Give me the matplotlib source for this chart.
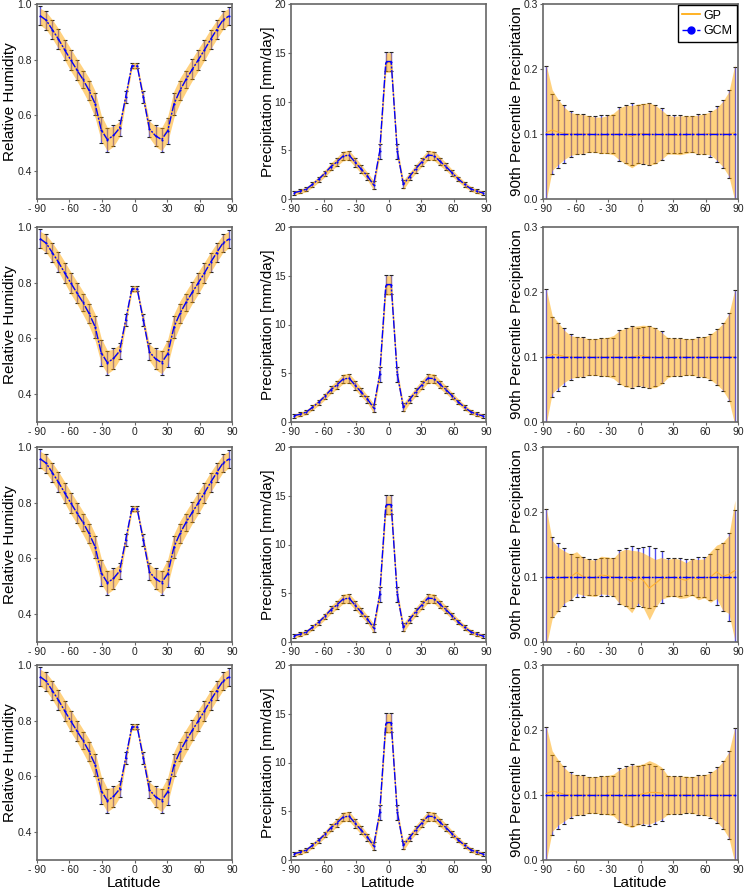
import matplotlib
matplotlib.use('Agg')
import matplotlib.pyplot as plt
from matplotlib.lines import Line2D

plt.rcParams['font.family'] = ['Liberation Sans', 'DejaVu Sans']

# Gaussian latitudes (32 points)
lat = [-87.16, -81.53, -75.89, -70.24, -64.59, -58.95, -53.30, -47.65,
       -42.00, -36.35, -30.70, -25.06, -19.41, -13.76, -8.11, -2.46,
       2.46, 8.11, 13.76, 19.41, 25.06, 30.70, 36.35, 42.00,
       47.65, 53.30, 58.95, 64.59, 70.24, 75.89, 81.53, 87.16]

# relative humidity
rh_gcm = [0.958, 0.942, 0.908, 0.874, 0.836, 0.800, 0.764, 0.730, 0.690, 0.642, 0.548, 0.513, 0.528, 0.555, 0.667, 0.778,
          0.778, 0.667, 0.552, 0.527, 0.513, 0.545, 0.640, 0.690, 0.730, 0.765, 0.800, 0.835, 0.873, 0.908, 0.942, 0.957]
rh_gcm_err = [0.034, 0.034, 0.035, 0.036, 0.036, 0.036, 0.036, 0.031, 0.034, 0.040, 0.046, 0.043, 0.036, 0.028, 0.021, 0.009,
              0.009, 0.021, 0.030, 0.037, 0.043, 0.046, 0.040, 0.035, 0.031, 0.036, 0.036, 0.035, 0.034, 0.034, 0.033, 0.034]
rh_gp = [0.955, 0.940, 0.910, 0.876, 0.838, 0.800, 0.765, 0.728, 0.690, 0.640, 0.555, 0.515, 0.525, 0.552, 0.665, 0.777,
         0.777, 0.665, 0.550, 0.525, 0.515, 0.552, 0.640, 0.690, 0.728, 0.765, 0.800, 0.836, 0.874, 0.908, 0.940, 0.955]
rh_gp_sd = [0.030, 0.032, 0.034, 0.036, 0.038, 0.040, 0.040, 0.042, 0.045, 0.048, 0.046, 0.042, 0.036, 0.028, 0.018, 0.012,
            0.012, 0.018, 0.030, 0.036, 0.042, 0.046, 0.048, 0.045, 0.042, 0.040, 0.040, 0.038, 0.036, 0.034, 0.032, 0.030]

# precipitation [mm/day]
pr_gcm = [0.65, 0.80, 1.02, 1.50, 2.02, 2.62, 3.30, 3.80, 4.40, 4.50, 3.75, 3.05, 2.35, 1.45, 4.90, 14.10,
          14.10, 4.90, 1.50, 2.30, 3.10, 3.80, 4.50, 4.45, 3.85, 3.30, 2.65, 2.05, 1.50, 1.05, 0.80, 0.62]
pr_gcm_err = [0.22, 0.20, 0.20, 0.22, 0.25, 0.30, 0.35, 0.40, 0.42, 0.45, 0.42, 0.40, 0.35, 0.42, 0.75, 1.00,
              1.00, 0.75, 0.42, 0.35, 0.40, 0.42, 0.45, 0.42, 0.40, 0.35, 0.30, 0.25, 0.22, 0.20, 0.20, 0.22]
pr_gp = [0.62, 0.78, 1.00, 1.48, 2.00, 2.60, 3.28, 3.82, 4.42, 4.48, 3.78, 3.05, 2.32, 1.40, 4.85, 14.00,
         14.00, 4.85, 1.45, 2.30, 3.08, 3.80, 4.48, 4.45, 3.85, 3.30, 2.65, 2.05, 1.50, 1.05, 0.78, 0.62]
pr_gp_sd = [0.22, 0.22, 0.25, 0.28, 0.30, 0.35, 0.40, 0.45, 0.50, 0.50, 0.48, 0.45, 0.40, 0.50, 0.50, 1.00,
            1.00, 0.50, 0.50, 0.40, 0.45, 0.48, 0.50, 0.50, 0.45, 0.40, 0.35, 0.30, 0.28, 0.25, 0.22, 0.22]

# 90th percentile precipitation
p90_gcm = [0.1] * 32
p90_gcm_err = [0.105, 0.062, 0.052, 0.044, 0.035, 0.031, 0.031, 0.028, 0.028, 0.029, 0.029, 0.029, 0.041, 0.044, 0.047, 0.045,
               0.046, 0.048, 0.045, 0.040, 0.029, 0.029, 0.029, 0.028, 0.028, 0.031, 0.031, 0.036, 0.043, 0.052, 0.068, 0.103]

p90_gp_rows = [
    [0.102, 0.106, 0.103, 0.101, 0.100, 0.100, 0.100, 0.100, 0.099, 0.098, 0.099, 0.100, 0.100, 0.099, 0.096, 0.100,
     0.101, 0.100, 0.099, 0.099, 0.099, 0.098, 0.098, 0.099, 0.100, 0.099, 0.100, 0.101, 0.100, 0.100, 0.100, 0.102],
    [0.101, 0.104, 0.103, 0.101, 0.100, 0.100, 0.100, 0.100, 0.100, 0.100, 0.100, 0.100, 0.100, 0.099, 0.100, 0.102,
     0.102, 0.100, 0.099, 0.098, 0.099, 0.100, 0.100, 0.100, 0.100, 0.100, 0.100, 0.100, 0.100, 0.100, 0.100, 0.100],
    [0.100, 0.096, 0.097, 0.100, 0.100, 0.107, 0.101, 0.099, 0.098, 0.103, 0.102, 0.100, 0.099, 0.099, 0.093, 0.100,
     0.095, 0.083, 0.090, 0.098, 0.098, 0.100, 0.097, 0.095, 0.100, 0.096, 0.098, 0.100, 0.108, 0.101, 0.104, 0.110],
    [0.102, 0.106, 0.104, 0.101, 0.100, 0.100, 0.100, 0.100, 0.100, 0.100, 0.100, 0.100, 0.099, 0.098, 0.098, 0.100,
     0.102, 0.104, 0.104, 0.103, 0.100, 0.100, 0.100, 0.101, 0.100, 0.100, 0.100, 0.100, 0.100, 0.100, 0.100, 0.100],
]
p90_gp_sd_rows = [
    [0.105, 0.062, 0.050, 0.040, 0.033, 0.031, 0.030, 0.028, 0.027, 0.028, 0.029, 0.032, 0.040, 0.045, 0.048, 0.046,
     0.046, 0.048, 0.045, 0.038, 0.030, 0.029, 0.030, 0.029, 0.028, 0.030, 0.031, 0.033, 0.040, 0.050, 0.065, 0.105],
    [0.105, 0.060, 0.050, 0.040, 0.033, 0.031, 0.030, 0.028, 0.028, 0.029, 0.030, 0.033, 0.041, 0.045, 0.047, 0.046,
     0.047, 0.048, 0.046, 0.040, 0.031, 0.029, 0.029, 0.028, 0.028, 0.030, 0.031, 0.035, 0.042, 0.051, 0.066, 0.105],
    [0.108, 0.060, 0.049, 0.040, 0.035, 0.032, 0.029, 0.028, 0.028, 0.029, 0.029, 0.029, 0.040, 0.044, 0.048, 0.040,
     0.042, 0.049, 0.037, 0.032, 0.029, 0.029, 0.030, 0.027, 0.028, 0.031, 0.030, 0.039, 0.041, 0.052, 0.060, 0.108],
    [0.105, 0.062, 0.050, 0.041, 0.033, 0.031, 0.030, 0.028, 0.028, 0.029, 0.030, 0.032, 0.040, 0.045, 0.048, 0.046,
     0.046, 0.049, 0.045, 0.040, 0.030, 0.029, 0.029, 0.028, 0.028, 0.030, 0.031, 0.034, 0.041, 0.051, 0.066, 0.105],
]

xticks = [-90, -60, -30, 0, 30, 60, 90]
xticklabels = ['- 90', '- 60', '- 30', '0', '30', '60', '90']

band_color = '#FFA500'
bar_color = '#5050F0'
gcm_color = '#0000FF'
dash = (0, (6, 1.2, 1.4, 1.2))

fig = plt.figure(figsize=(7.48, 8.89), dpi=100)

col_left = [37 / 748, 291 / 748, 543 / 748]
col_width = 195 / 748
row_bottom = [1 - 199 / 889, 1 - 422 / 889, 1 - 642 / 889, 1 - 860 / 889]
row_height = 195 / 889
label_x = [-0.103, -0.082, -0.098]


def panel(ax, gcm, gcm_err, gp, gp_sd):
    eb = ax.errorbar(lat, gcm, yerr=gcm_err, fmt='none', ecolor=bar_color,
                     elinewidth=1.0, capsize=1.6, capthick=0.8, zorder=1)
    for cap in eb[1]:
        cap.set_markeredgecolor('#222222')
    lo = [m - s for m, s in zip(gp, gp_sd)]
    hi = [m + s for m, s in zip(gp, gp_sd)]
    ax.fill_between(lat, lo, hi, color=band_color, alpha=0.5, lw=0, zorder=2)
    ax.plot(lat, gp, color='#FFB030', lw=0.8, zorder=3)
    ax.plot(lat, gcm, color=gcm_color, ls=dash, lw=1.0, marker='o',
            markersize=1.5, markeredgewidth=0, zorder=4)


for r in range(4):
    axes = [fig.add_axes([col_left[c], row_bottom[r], col_width, row_height]) for c in range(3)]

    panel(axes[0], rh_gcm, rh_gcm_err, rh_gp, rh_gp_sd)
    axes[0].set_ylim(0.3, 1.0)
    axes[0].set_yticks([0.4, 0.6, 0.8, 1.0])
    axes[0].set_yticklabels(['0.4', '0.6', '0.8', '1.0'])
    axes[0].set_ylabel('Relative Humidity', fontsize=11)

    panel(axes[1], pr_gcm, pr_gcm_err, pr_gp, pr_gp_sd)
    axes[1].set_ylim(0, 20)
    axes[1].set_yticks([0, 5, 10, 15, 20])
    axes[1].set_ylabel('Precipitation [mm/day]', fontsize=11)

    panel(axes[2], p90_gcm, p90_gcm_err, p90_gp_rows[r], p90_gp_sd_rows[r])
    axes[2].set_ylim(0, 0.3)
    axes[2].set_yticks([0.0, 0.1, 0.2, 0.3])
    axes[2].set_yticklabels(['0.0', '0.1', '0.2', '0.3'])
    axes[2].set_ylabel('90th Percentile Precipitation', fontsize=11)

    for c, ax in enumerate(axes):
        ax.set_xlim(-90, 90)
        ax.set_xticks(xticks)
        ax.set_xticklabels(xticklabels)
        ax.tick_params(direction='out', length=2.5, width=0.8, labelsize=7.5,
                       pad=1, colors='#222222', color='#666666')
        ax.yaxis.set_label_coords(label_x[c], 0.5)
        for sp in ax.spines.values():
            sp.set_color('#666666')
            sp.set_linewidth(1.2)
        if r == 3:
            ax.set_xlabel('Latitude', fontsize=11, labelpad=1)

    if r == 0:
        handles = [Line2D([], [], color=band_color, lw=1.2),
                   Line2D([], [], color=gcm_color, ls='-.', lw=1.0, marker='o', markersize=5)]
        leg = axes[2].legend(handles, ['GP', 'GCM'], loc='upper right', fontsize=9,
                             fancybox=False, edgecolor='black', framealpha=1,
                             borderaxespad=0.1, handlelength=1.4, handletextpad=0.3,
                             borderpad=0.35, labelspacing=0.3)
        leg.get_frame().set_linewidth(1.0)

fig.savefig('out.png', dpi=100)
